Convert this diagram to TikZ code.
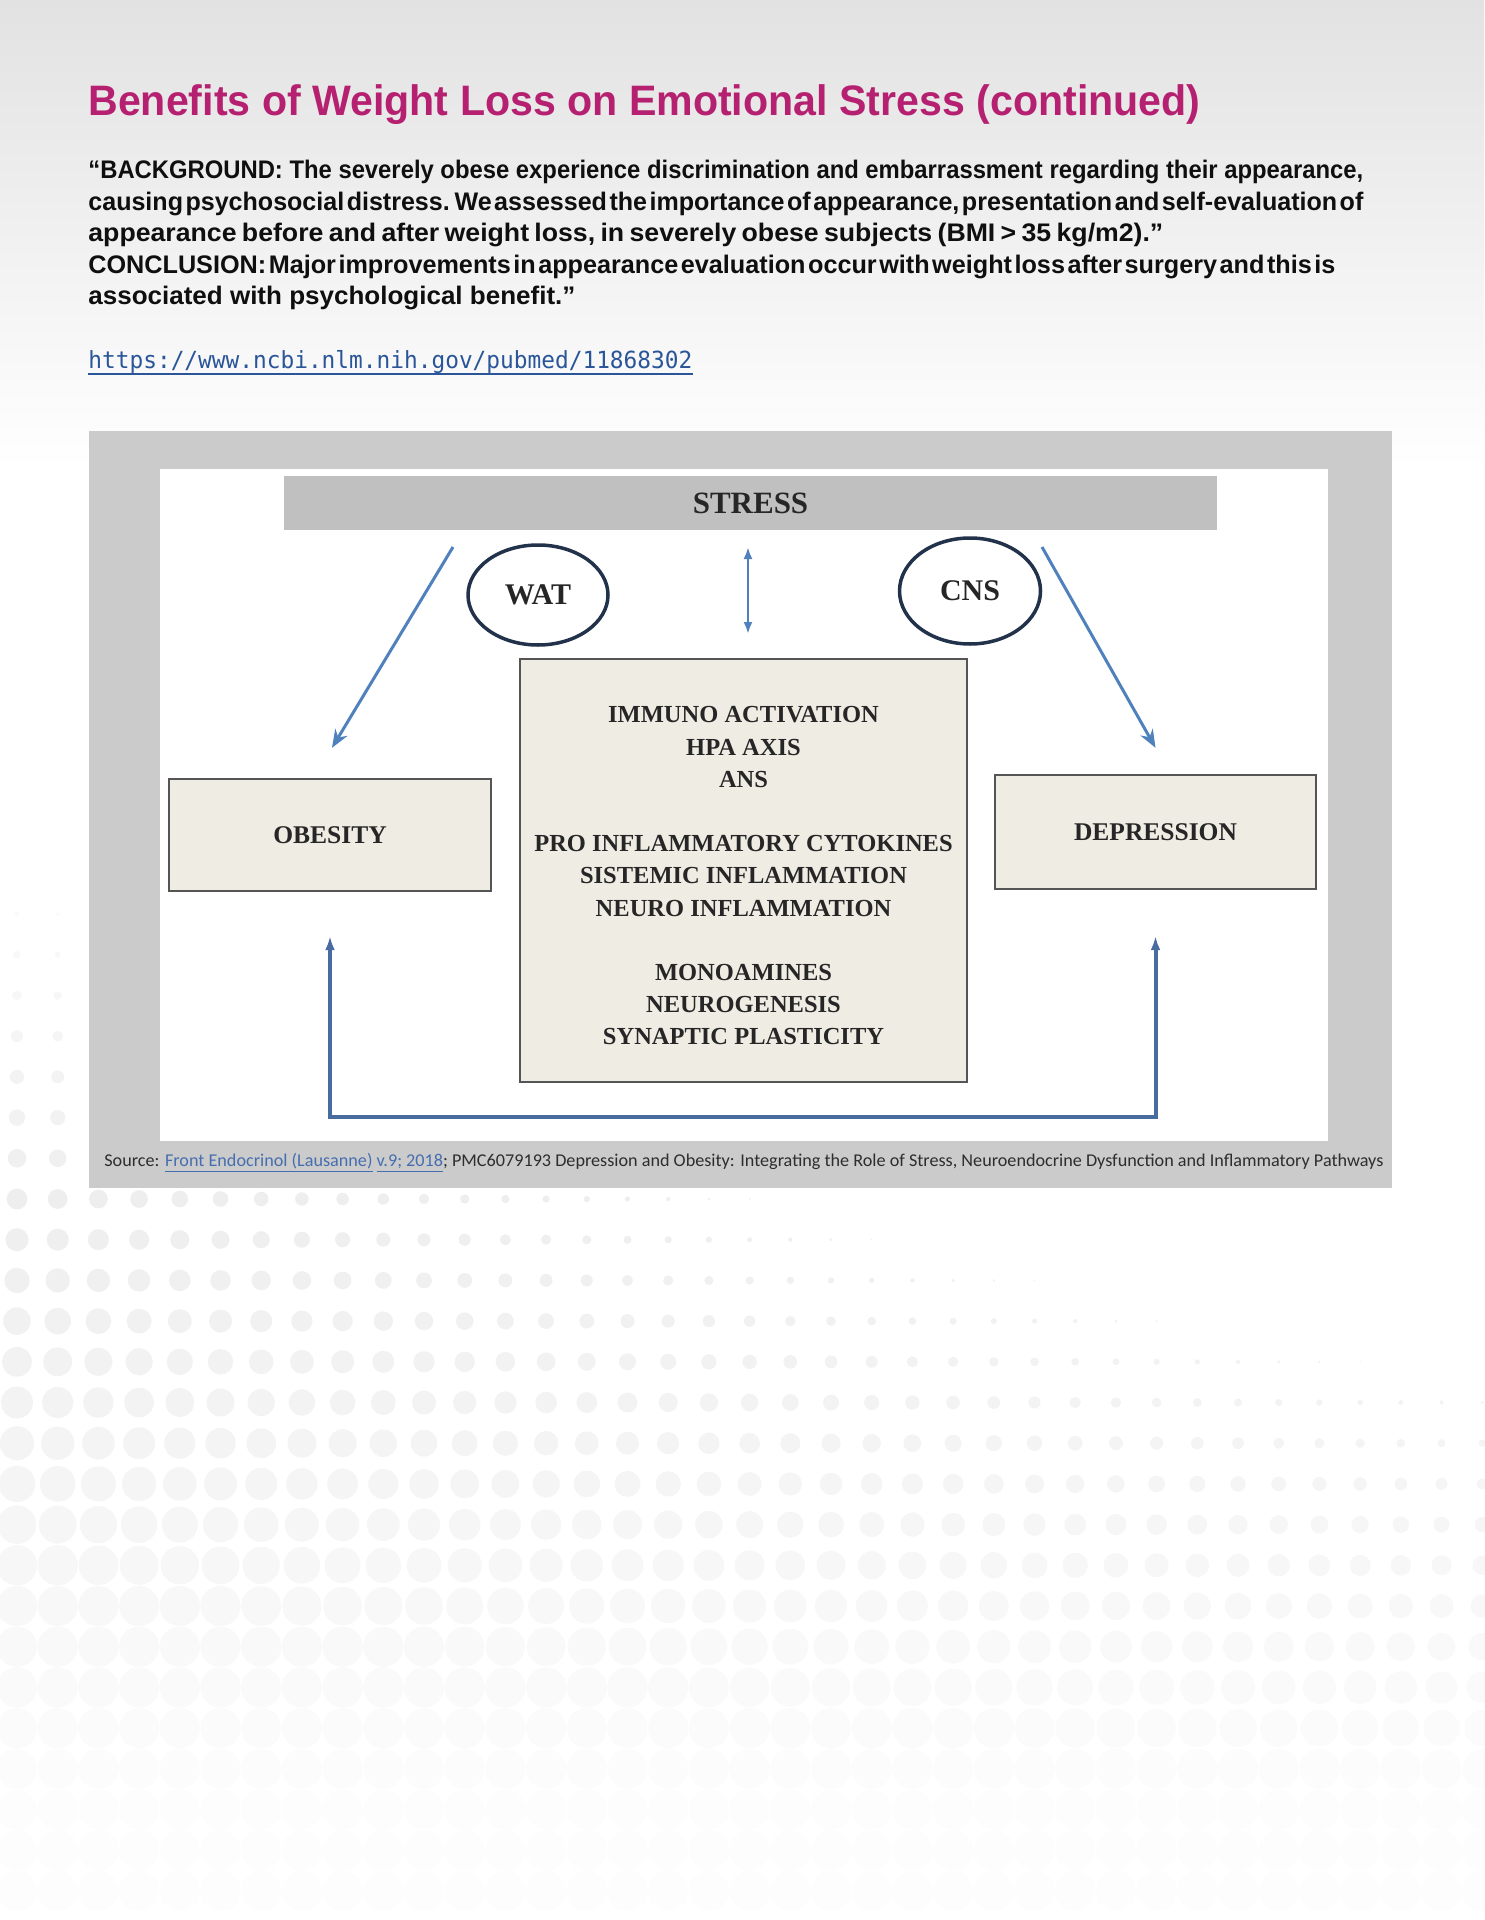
\documentclass[tikz,border=0pt]{standalone}
\usepackage{graphicx}
\usepackage{fontspec}
\setmainfont{Liberation Sans}
\newfontfamily\srf{Liberation Serif}
\newfontfamily\mono{DejaVu Sans Mono}
\newfontfamily\carl{Carlito}
\usetikzlibrary{shapes.geometric,arrows.meta}
\definecolor{titlec}{RGB}{181,33,112}
\definecolor{linkc}{RGB}{42,86,153}
\definecolor{arrc}{RGB}{79,129,189}
\definecolor{arrd}{RGB}{72,108,160}
\definecolor{framec}{RGB}{203,203,203}
\definecolor{barc}{RGB}{192,192,192}
\definecolor{boxf}{RGB}{238,236,227}
\definecolor{boxd}{RGB}{85,85,85}
\definecolor{ellc}{RGB}{35,50,75}
\definecolor{srcl}{RGB}{70,110,175}
\definecolor{srcg}{RGB}{45,45,45}
\definecolor{topg}{RGB}{226,226,226}
\definecolor{bodyc}{RGB}{15,15,15}
\newsavebox\fitbox
\newlength\fitw
\newcommand\fitto[2]{\sbox\fitbox{#2}\setlength\fitw{\wd\fitbox}\pgfmathsetmacro\fitf{#1/\fitw}\scalebox{\fitf}[1]{\usebox\fitbox}}
\newcommand\bodyf{\bfseries\fontsize{12.7}{14}\selectfont}
\tikzset{
  txt/.style={inner sep=0, anchor=base west},
  bx/.style={draw=boxd, line width=1.2pt, fill=boxf, inner sep=0},
  lbl/.style={font=\srf\bfseries\fontsize{12.75}{15}\selectfont, text=black!85},
  circ/.style={ellipse, draw=ellc, line width=1.75pt, fill=white, inner sep=0, text=black!85,
    font=\srf\bfseries\fontsize{15}{18}\selectfont},
  arr/.style={draw=arrc, line width=1.5pt, -{Stealth[length=9pt,width=7pt]}},
  darr/.style={draw=arrc, line width=1.3pt, {Latex[length=6pt,width=4.5pt]}-{Latex[length=6pt,width=4.5pt]}},
  farr/.style={draw=arrd, line width=2pt, {Latex[length=7pt,width=5pt]}-{Latex[length=7pt,width=5pt]}}
}
\begin{document}
\begin{tikzpicture}[x=0.5pt,y=-0.5pt]
\useasboundingbox (0,0) rectangle (1484,1920);
\fill[white] (0,0) rectangle (1484,1920);
\shade[top color=topg, bottom color=white] (0,0) rectangle (1484,470);
% dot pattern
\foreach \i in {0,...,36}{\foreach \j in {-7,...,17}{
  \pgfmathsetmacro\dx{17+40.7*\i}
  \pgfmathsetmacro\dy{1199+40.7*\j}
  \pgfmathsetmacro\yp{\dy-915}
  \pgfmathsetmacro\sl{0.0128-0.0000135*(\yp-290)}
  \pgfmathsetmacro\rr{min(20.2,3+0.027*\yp-\sl*\dx)}
  \pgfmathsetmacro\op{\dy<1200 ? 0.02+0.045*(\dy-915)/285 : max(0.006,0.065-0.06*(\dy-1200)/650)}
  \pgfmathsetmacro\rp{\rr*0.5}
  \ifdim\rr pt>0.8pt \fill[black, fill opacity=\op] (\dx,\dy) circle[radius=\rp pt]; \fi
}}
% title and text
\node[txt, text=titlec] (title) at (88,116) {\fitto{556}{\bfseries\fontsize{21.3}{24}\selectfont Benefits of Weight Loss on Emotional Stress (continued)}};
\node[txt, text=bodyc] (l1) at (88,179) {\fitto{637.5}{\bodyf “BACKGROUND: The severely obese experience discrimination and embarrassment regarding their appearance,}};
\node[txt, text=bodyc] (l2) at (88,210.5) {\fitto{637.5}{\bodyf\spaceskip=0.1em\relax causing psychosocial distress. We assessed the importance of appearance, presentation and self-evaluation of}};
\node[txt, text=bodyc] (l3) at (88,242) {\fitto{537.5}{\bodyf\spaceskip=0.2em\relax appearance before and after weight loss, in severely obese subjects (BMI > 35 kg/m2).”}};
\node[txt, text=bodyc] (l4) at (88,273.5) {\fitto{623.5}{\bodyf\spaceskip=0.1em\relax CONCLUSION: Major improvements in appearance evaluation occur with weight loss after surgery and this is}};
\node[txt, text=bodyc] (l5) at (88,305) {\fitto{243.5}{\bodyf associated with psychological benefit.”}};
\node[txt, text=linkc] (url) at (88,369) {\fitto{302}{\mono\fontsize{11.8}{14}\selectfont https://www.ncbi.nlm.nih.gov/pubmed/11868302}};
\draw[linkc, line width=0.9pt] ([yshift=-2.6pt]url.base west) -- ([yshift=-2.6pt]url.base east);
% figure frame
\fill[framec] (89,431) rectangle (1392,1188);
\fill[white] (160,469) rectangle (1328,1141);
\node[txt, text=srcg] (src) at (104,1166) {\fitto{639.5}{\carl\fontsize{9}{11}\selectfont Source: \textcolor{srcl}{\underline{Front Endocrinol (Lausanne)}} \textcolor{srcl}{\underline{v.9; 2018}}; PMC6079193 Depression and Obesity: Integrating the Role of Stress, Neuroendocrine Dysfunction and Inflammatory Pathways}};
% diagram
\node[fill=barc, minimum width=466.5pt, minimum height=27pt, inner sep=0, text=black!85,
  font=\srf\bfseries\fontsize{15.5}{18}\selectfont] (stress) at (750.5,503) {STRESS};
\node[circ, minimum width=70pt, minimum height=50pt] (wat) at (538,595) {WAT};
\node[circ, minimum width=70.5pt, minimum height=53pt] (cns) at (970,591) {CNS};
\node[bx, minimum width=223.5pt, minimum height=211.5pt, align=center, text=black!85,
  font=\srf\bfseries\fontsize{12.25}{16.1}\selectfont] (mid) at (743.5,870.5)
  {\rule{0pt}{13.6pt}IMMUNO ACTIVATION\\HPA AXIS\\ANS\\[16.1pt]PRO INFLAMMATORY CYTOKINES\\SISTEMIC INFLAMMATION\\NEURO INFLAMMATION\\[16.1pt]MONOAMINES\\NEUROGENESIS\\SYNAPTIC PLASTICITY};
\node[bx, lbl, minimum width=161pt, minimum height=56pt] (obes) at (330,835) {OBESITY};
\node[bx, lbl, minimum width=160.5pt, minimum height=57pt] (depr) at (1155.5,832) {DEPRESSION};
% connectors
\coordinate (a1) at (453,547);
\coordinate (a2) at ([xshift=1pt,yshift=15pt]obes.north);
\coordinate (b1) at (1042,547);
\coordinate (b2) at ([yshift=13pt]depr.north);
\coordinate (m1) at (748,547);
\coordinate (m2) at (748,634);
\coordinate (f1) at ([yshift=-22pt]obes.south);
\coordinate (f2) at ([yshift=-23pt]depr.south);
\coordinate (fb) at (742,1117);
\draw[arr] (a1) -- (a2);
\draw[arr] (b1) -- (b2);
\draw[darr] (m1) -- (m2);
\draw[farr] (f1) -- (f1 |- fb) -- (f2 |- fb) -- (f2);
\end{tikzpicture}
\end{document}
